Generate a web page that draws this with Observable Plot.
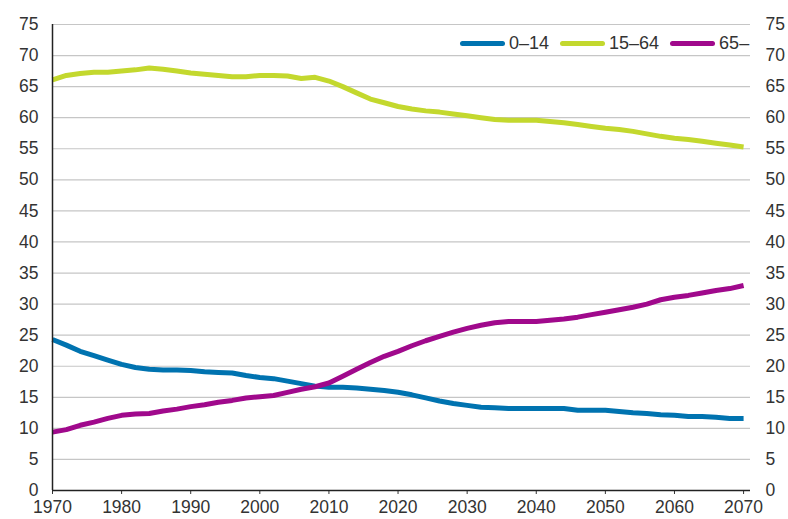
<!DOCTYPE html>
<html>
<head>
<meta charset="utf-8">
<script src="https://cdn.jsdelivr.net/npm/d3@7"></script>
<script src="https://cdn.jsdelivr.net/npm/@observablehq/plot@0.6"></script>
<style>
  html, body { margin: 0; padding: 0; background: #fff; }
  #wrap { position: relative; width: 788px; height: 519px; font-family: "Liberation Sans", Arial, sans-serif; }
  #legend { position: absolute; top: 33px; left: 460px; display: flex; align-items: center; font-size: 18px; color: #333; }
  .item { display: flex; align-items: center; margin-right: 11px; }
  .sw { width: 45px; height: 5px; border-radius: 3px; margin-right: 4px; }
</style>
</head>
<body>
<div id="wrap"></div>
<script>
const years = d3.range(1970, 2071, 2);
const age0_14 = [24.3,23.4,22.4,21.7,21.0,20.3,19.8,19.5,19.4,19.4,19.3,19.1,19.0,18.9,18.5,18.2,18.0,17.6,17.2,16.8,16.6,16.6,16.5,16.3,16.1,15.8,15.4,14.9,14.4,14.0,13.7,13.4,13.3,13.2,13.2,13.2,13.2,13.2,12.9,12.9,12.9,12.7,12.5,12.4,12.2,12.1,11.9,11.9,11.8,11.6,11.6];
const age15_64 = [66.1,66.8,67.1,67.3,67.3,67.5,67.7,68.0,67.8,67.5,67.2,67.0,66.8,66.6,66.6,66.8,66.8,66.7,66.3,66.5,65.9,65.0,64.0,63.0,62.4,61.8,61.4,61.1,60.9,60.6,60.3,60.0,59.7,59.6,59.6,59.6,59.4,59.2,58.9,58.6,58.3,58.1,57.8,57.4,57.0,56.7,56.5,56.2,55.9,55.6,55.3];
const age65 = [9.4,9.8,10.5,11.0,11.6,12.1,12.3,12.4,12.8,13.1,13.5,13.8,14.2,14.5,14.9,15.1,15.3,15.8,16.3,16.7,17.3,18.4,19.5,20.6,21.6,22.4,23.3,24.1,24.8,25.5,26.1,26.6,27.0,27.2,27.2,27.2,27.4,27.6,27.9,28.3,28.7,29.1,29.5,30.0,30.7,31.1,31.4,31.8,32.2,32.5,33.0];
const seriesNames = ["0\u201314", "15\u201364", "65\u2013"];
const seriesColors = ["#0073b0", "#c3d82e", "#a0098c"];
const yTicks = d3.range(0, 76, 5);
const xTicks = d3.range(1970, 2071, 10);

const data = [];
[age0_14, age15_64, age65].forEach((arr, i) => {
  arr.forEach((v, j) => data.push({year: years[j], value: v, group: seriesNames[i]}));
});

const font = "Liberation Sans, Arial, sans-serif";
const chart = Plot.plot({
  width: 788,
  height: 519,
  marginLeft: 52,
  marginRight: 38,
  marginTop: 24,
  marginBottom: 29,
  style: {fontFamily: font, fontSize: "17.5px", color: "#333", background: "#fff"},
  x: {domain: [1970, 2071], label: null},
  y: {domain: [0, 75], label: null},
  color: {domain: seriesNames, range: seriesColors},
  marks: [
    Plot.gridY(yTicks, {stroke: "#c6c6c6", strokeOpacity: 1, strokeWidth: 1.2}),
    Plot.axisY(yTicks, {anchor: "left", tickSize: 0, tickPadding: 14, fontSize: 17.5, fill: "#333"}),
    Plot.axisY(yTicks, {anchor: "right", tickSize: 0, tickPadding: 15, fontSize: 17.5, fill: "#333"}),
    Plot.axisX(xTicks, {tickFormat: "d", tickSize: 4, tickPadding: 6, fontSize: 17.5, fill: "#333", stroke: "#333"}),
    Plot.ruleY([0], {stroke: "#222", strokeWidth: 1.5}),
    Plot.line(data, {x: "year", y: "value", z: "group", stroke: "group", strokeWidth: 5, strokeLinejoin: "round", strokeLinecap: "butt", curve: "linear"}),
    Plot.ruleX([1970], {stroke: "#222", strokeWidth: 1.5})
  ]
});
const wrap = document.getElementById("wrap");
wrap.appendChild(chart);

const legend = document.createElement("div");
legend.id = "legend";
seriesNames.forEach((n, i) => {
  const it = document.createElement("div");
  it.className = "item";
  const sw = document.createElement("div");
  sw.className = "sw";
  sw.style.background = seriesColors[i];
  const t = document.createElement("span");
  t.textContent = n;
  it.appendChild(sw); it.appendChild(t);
  legend.appendChild(it);
});
wrap.appendChild(legend);
</script>
</body>
</html>
